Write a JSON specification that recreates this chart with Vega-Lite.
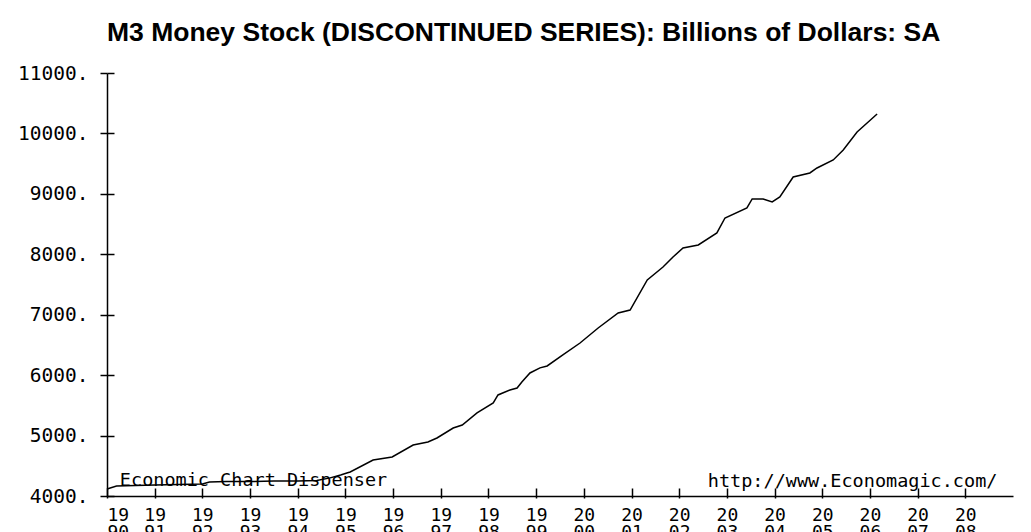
{
  "$schema": "https://vega.github.io/schema/vega-lite/v6.json",
  "width": 906,
  "height": 423,
  "autosize": "none",
  "padding": {"left": 107, "top": 73, "right": 18, "bottom": 36},
  "background": "white",
  "config": {
    "view": {"stroke": null},
    "axis": {
      "domainColor": "black",
      "tickColor": "black",
      "labelColor": "black",
      "domainWidth": 1.5,
      "tickWidth": 1.5,
      "grid": false,
      "title": null,
      "labelFont": "DejaVu Sans Mono",
      "labelFontSize": 18,
      "labelOverlap": false
    }
  },
  "title": {
    "text": "M3 Money Stock (DISCONTINUED SERIES): Billions of Dollars: SA",
    "anchor": "start",
    "frame": "group",
    "font": "Liberation Sans",
    "fontSize": 26.5,
    "fontWeight": "bold",
    "color": "black",
    "baseline": "alphabetic",
    "offset": -4
  },
  "data": {
    "values": [
      {"year": 1990.00, "m3": 4116},
      {"year": 1990.20, "m3": 4166},
      {"year": 1990.60, "m3": 4174},
      {"year": 1991.00, "m3": 4182},
      {"year": 1991.50, "m3": 4190},
      {"year": 1992.00, "m3": 4199},
      {"year": 1992.15, "m3": 4232},
      {"year": 1992.50, "m3": 4240},
      {"year": 1993.00, "m3": 4240},
      {"year": 1993.50, "m3": 4248},
      {"year": 1994.00, "m3": 4248},
      {"year": 1994.40, "m3": 4257},
      {"year": 1994.68, "m3": 4300},
      {"year": 1994.90, "m3": 4348},
      {"year": 1995.03, "m3": 4381},
      {"year": 1995.10, "m3": 4397},
      {"year": 1995.58, "m3": 4596},
      {"year": 1995.98, "m3": 4645},
      {"year": 1996.42, "m3": 4844},
      {"year": 1996.73, "m3": 4894},
      {"year": 1996.92, "m3": 4960},
      {"year": 1997.26, "m3": 5125},
      {"year": 1997.45, "m3": 5175},
      {"year": 1997.76, "m3": 5374},
      {"year": 1998.10, "m3": 5539},
      {"year": 1998.20, "m3": 5672},
      {"year": 1998.45, "m3": 5754},
      {"year": 1998.60, "m3": 5787},
      {"year": 1998.70, "m3": 5887},
      {"year": 1998.87, "m3": 6036},
      {"year": 1999.08, "m3": 6120},
      {"year": 1999.23, "m3": 6152},
      {"year": 1999.56, "m3": 6334},
      {"year": 1999.92, "m3": 6532},
      {"year": 2000.30, "m3": 6780},
      {"year": 2000.72, "m3": 7029},
      {"year": 2000.97, "m3": 7078},
      {"year": 2001.33, "m3": 7575},
      {"year": 2001.66, "m3": 7790},
      {"year": 2001.87, "m3": 7955},
      {"year": 2002.08, "m3": 8104},
      {"year": 2002.40, "m3": 8154},
      {"year": 2002.79, "m3": 8353},
      {"year": 2002.96, "m3": 8601},
      {"year": 2003.42, "m3": 8766},
      {"year": 2003.53, "m3": 8915},
      {"year": 2003.76, "m3": 8915},
      {"year": 2003.95, "m3": 8866},
      {"year": 2004.11, "m3": 8948},
      {"year": 2004.39, "m3": 9279},
      {"year": 2004.74, "m3": 9346},
      {"year": 2004.89, "m3": 9428},
      {"year": 2005.23, "m3": 9561},
      {"year": 2005.44, "m3": 9726},
      {"year": 2005.73, "m3": 10024},
      {"year": 2005.94, "m3": 10173},
      {"year": 2006.15, "m3": 10322}
    ]
  },
  "layer": [
    {
      "mark": {"type": "line", "color": "black", "strokeWidth": 1.5},
      "encoding": {
        "x": {
          "field": "year",
          "type": "quantitative",
          "scale": {"domain": [1990, 2009], "nice": false, "zero": false},
          "axis": {
            "orient": "bottom",
            "values": [1990, 1991, 1992, 1993, 1994, 1995, 1996, 1997, 1998, 1999, 2000, 2001, 2002, 2003, 2004, 2005, 2006, 2007, 2008],
            "format": "d",
            "labelExpr": "[substring(datum.label, 0, 2), substring(datum.label, 2, 4)]",
            "tickSize": 2,
            "labelPadding": 8,
            "labelBaseline": "top",
            "labelLineHeight": 17
          }
        },
        "y": {
          "field": "m3",
          "type": "quantitative",
          "scale": {"domain": [4000, 11000], "nice": false, "zero": false},
          "axis": {
            "orient": "left",
            "values": [4000, 5000, 6000, 7000, 8000, 9000, 10000, 11000],
            "labelExpr": "datum.value + '.'",
            "labelFontSize": 19.5,
            "tickSize": 7,
            "labelPadding": 12
          }
        }
      }
    },
    {
      "mark": {"type": "line", "strokeOpacity": 0},
      "encoding": {
        "x": {
          "field": "year",
          "type": "quantitative",
          "axis": {
            "orient": "bottom",
            "values": [1990, 1991, 1992, 1993, 1994, 1995, 1996, 1997, 1998, 1999, 2000, 2001, 2002, 2003, 2004, 2005, 2006, 2007, 2008],
            "labels": false,
            "domain": false,
            "tickSize": -8
          }
        },
        "y": {
          "field": "m3",
          "type": "quantitative",
          "axis": {
            "orient": "left",
            "values": [4000, 5000, 6000, 7000, 8000, 9000, 10000, 11000],
            "labels": false,
            "domain": false,
            "tickSize": -7
          }
        }
      }
    },
    {
      "data": {"values": [{"note": "Economic Chart Dispenser"}]},
      "mark": {"type": "text", "align": "left", "baseline": "alphabetic", "font": "DejaVu Sans Mono", "fontSize": 18.5, "color": "black"},
      "encoding": {
        "text": {"field": "note"},
        "x": {"datum": 1990.27, "type": "quantitative", "axis": null},
        "y": {"datum": 4165, "type": "quantitative", "axis": null}
      }
    },
    {
      "data": {"values": [{"note": "http://www.Economagic.com/"}]},
      "mark": {"type": "text", "align": "left", "baseline": "alphabetic", "font": "DejaVu Sans Mono", "fontSize": 18.5, "color": "black"},
      "encoding": {
        "text": {"field": "note"},
        "x": {"datum": 2002.6, "type": "quantitative", "axis": null},
        "y": {"datum": 4154, "type": "quantitative", "axis": null}
      }
    }
  ],
  "resolve": {"axis": {"x": "independent", "y": "independent"}}
}
